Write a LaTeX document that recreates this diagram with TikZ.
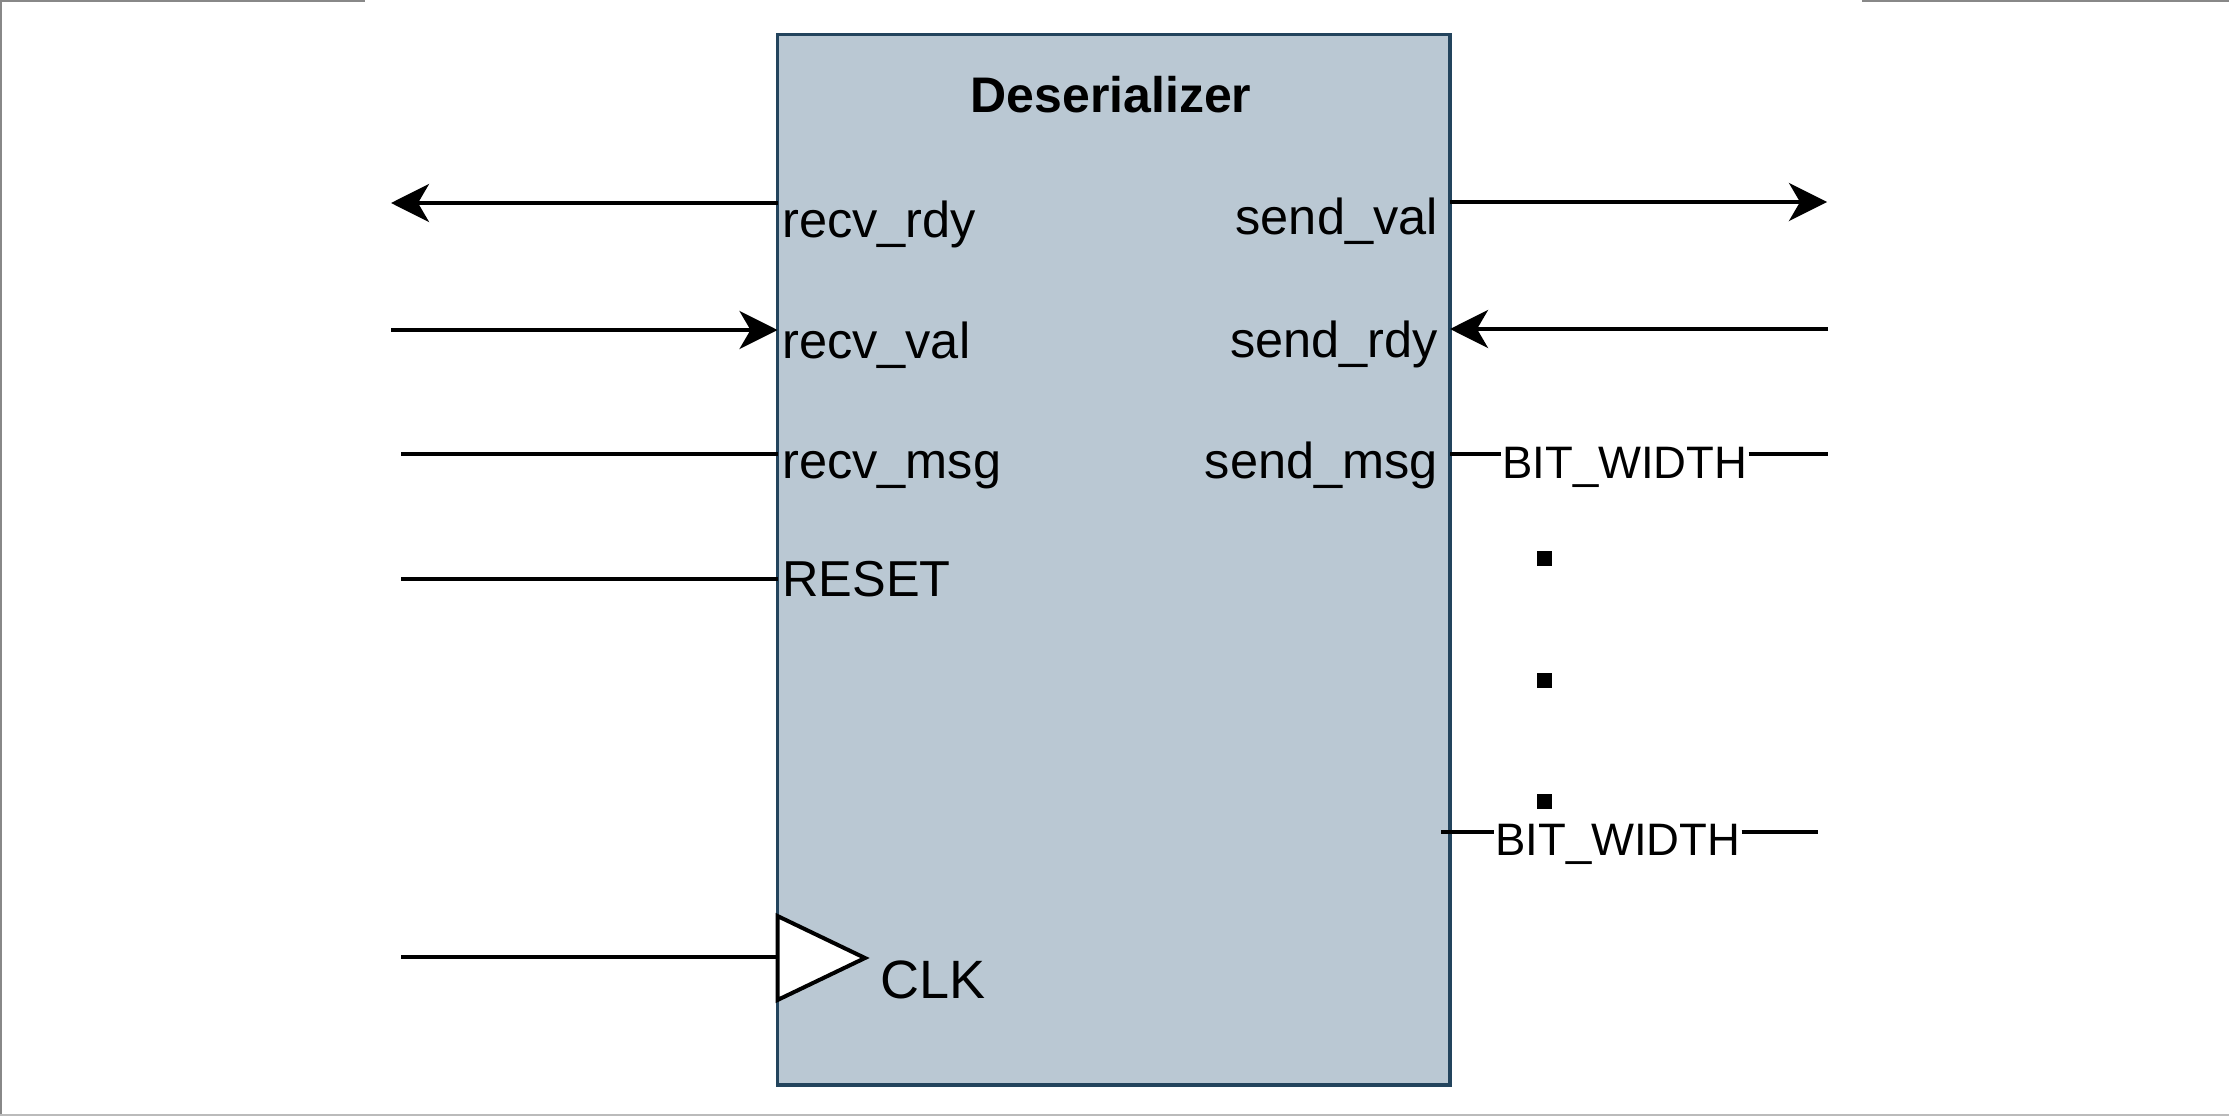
\documentclass[tikz,border=0pt]{standalone}
\usepackage{fontspec}
\setmainfont{Liberation Sans}
\usetikzlibrary{arrows.meta}

\definecolor{blkfill}{HTML}{BAC8D3}
\definecolor{blkline}{HTML}{23445D}
\definecolor{frameA}{HTML}{888888}
\definecolor{frameB}{HTML}{BBBBBB}

\tikzset{
  wire/.style={line width=4pt, black},
  sigarrow/.style={wire, -{Stealth[length=38pt, width=38pt, inset=11pt]}},
  portlbl/.style={inner sep=0pt, font=\fontsize{50.5}{56}\selectfont},
  widthlbl/.style={inner sep=1pt, font=\fontsize{45.5}{50}\selectfont},
  block/.style={draw=blkline, fill=blkfill, line width=3.5pt, inner sep=0pt,
    minimum width=672.5pt, minimum height=1050.5pt},
  dotmark/.style={fill=black, minimum size=15pt, inner sep=0pt},
}

\begin{document}
\begin{tikzpicture}[x=1pt, y=-1pt]
  \useasboundingbox (0,0) rectangle (2229,1116);
  \fill[white] (0,0) rectangle (2229,1116);

  % frame edges
  \draw[frameA, line width=2pt] (1,0) -- (1,1116);
  \draw[frameA, line width=2pt] (0,1) -- (365,1);
  \draw[frameA, line width=2pt] (1862,1) -- (2229,1);
  \draw[frameB, line width=2pt] (0,1115) -- (2229,1115);

  % the deserializer block
  \node[block] (blk) at (1113.75,559.75) {};
  \node[anchor=base, inner sep=0pt, font=\fontsize{50}{54}\selectfont\bfseries]
    (title) at (1111,112) {Deserializer};

  % port labels, left side
  \node[portlbl, anchor=base west] (lrrdy) at (782,237) {recv\_rdy};
  \node[portlbl, anchor=base west] (lrval) at (782,358) {recv\_val};
  \node[portlbl, anchor=base west] (lrmsg) at (782,478) {recv\_msg};
  \node[portlbl, anchor=base west] (lreset) at (782,596) {RESET};

  % port labels, right side
  \node[portlbl, anchor=base east] (lsval) at (1438,234) {send\_val};
  \node[portlbl, anchor=base east] (lsrdy) at (1438,357) {send\_rdy};
  \node[portlbl, anchor=base east] (lsmsg) at (1438,478) {send\_msg};

  % wire end points, left side
  \coordinate (prrdy) at (777.5,203);  \coordinate (erdy) at (391,203);
  \coordinate (prval) at (777.5,330);  \coordinate (erval) at (391,330);
  \coordinate (prmsg) at (777.5,454);  \coordinate (ermsg) at (401,454);
  \coordinate (preset) at (777.5,579); \coordinate (ereset) at (401,579);
  \coordinate (eclk) at (401,957);

  % wire end points, right side
  \coordinate (psval) at (1450,202);  \coordinate (esval) at (1827,202);
  \coordinate (psrdy) at (1450,329);  \coordinate (esrdy) at (1828,329);
  \coordinate (psmsg) at (1450,454);  \coordinate (esmsg) at (1828,454);
  \coordinate (pslast) at (1441,832); \coordinate (eslast) at (1818,832);

  % handshake signals
  \draw[sigarrow] (prrdy) -- (erdy);
  \draw[sigarrow] (erval) -- (prval);
  \draw[sigarrow] (psval) -- (esval);
  \draw[sigarrow] (esrdy) -- (psrdy);

  % plain inputs
  \draw[wire] (ermsg) -- (prmsg);
  \draw[wire] (ereset) -- (preset);

  % clock input with its triangle marker
  \coordinate (ckA) at (777.5,916);
  \coordinate (ckB) at (865,958);
  \coordinate (ckC) at (777.5,1000);
  \coordinate (ckIn) at (777.5,957);
  \draw[wire] (eclk) -- (ckIn);
  \draw[wire, fill=white, line join=miter] (ckA) -- (ckB) -- (ckC) -- cycle;
  \node[anchor=base west, inner sep=0pt, font=\fontsize{54}{60}\selectfont]
    (lclk) at (880,998) {CLK};

  % message output bus, first and last slices
  \node[widthlbl, anchor=base west] (bw1) at (1501,478) {BIT\_WIDTH};
  \draw[wire] (psmsg) -- (bw1.west |- psmsg);
  \draw[wire] (bw1.east |- psmsg) -- (esmsg);

  \node[widthlbl, anchor=base west] (bw2) at (1494,855) {BIT\_WIDTH};
  \draw[wire] (pslast) -- (bw2.west |- pslast);
  \draw[wire] (bw2.east |- pslast) -- (eslast);

  % ellipsis between the slices
  \node[dotmark] (d1) at (1544.5,558.5) {};
  \node[dotmark] (d2) at (1544.5,680.5) {};
  \node[dotmark] (d3) at (1544.5,801.5) {};
\end{tikzpicture}
\end{document}
